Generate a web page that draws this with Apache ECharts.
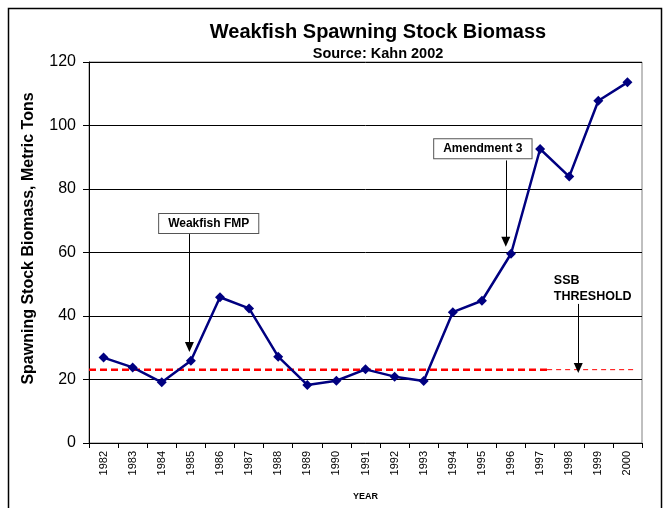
<!DOCTYPE html>
<html>
<head>
<meta charset="utf-8">
<script src="https://cdn.jsdelivr.net/npm/echarts@6/dist/echarts.min.js"></script>
<style>
  html, body { margin: 0; padding: 0; background: #fff; }
  #chart-container { width: 667px; height: 508px; }
</style>
</head>
<body>
<div id="chart-container"></div>
<script>
// years and spawning stock biomass
var years = ['1982', '1983', '1984', '1985', '1986', '1987', '1988', '1989', '1990', '1991',
  '1992', '1993', '1994', '1995', '1996', '1997', '1998', '1999', '2000'];
var biomass = [26.9, 23.8, 19.1, 25.9, 45.9, 42.4, 27.2, 18.3, 19.6, 23.2,
  20.9, 19.5, 41.2, 44.8, 59.6, 92.6, 83.9, 107.8, 113.6];
var yTicks = [0, 20, 40, 60, 80, 100, 120];

// SSB threshold, in axis units (x: 0..19 across the plot)
var threshold = 23.1;
var thresholdBold = [0, 15.74];
var thresholdThin = [15.74, 18.83];

// arrows: [x, from value, to value]
var arrows = [
  [3.45, 65.8, 30.2],
  [14.32, 89.0, 63.4],
  [16.81, 43.8, 23.6]
];
// text notes: [text, x, y(top value), boxed]
var notes = [
  ['Weakfish FMP', 2.41, 72.1, true],
  ['Amendment 3', 11.86, 95.7, true],
  ['SSB\nTHRESHOLD', 15.97, 53.6, false]
];

var font = 'Liberation Sans, Arial, sans-serif';
var dom = document.getElementById('chart-container');
var myChart = echarts.init(dom);

var arrowLines = arrows.map(function (a) {
  return [{ coord: [a[0], a[1]] }, { coord: [a[0], a[2]] }];
});

var option = {
  animation: false,
  backgroundColor: '#fff',
  title: [
    {
      text: 'Weakfish Spawning Stock Biomass',
      left: 373, top: 17, textAlign: 'center',
      textStyle: { fontFamily: font, fontSize: 20, fontWeight: 'bold', color: '#000' }
    },
    {
      text: 'Source: Kahn 2002',
      left: 373, top: 41, textAlign: 'center',
      textStyle: { fontFamily: font, fontSize: 14.5, fontWeight: 'bold', color: '#000' }
    }
  ],
  grid: {
    left: 89, right: 25, top: 62, bottom: 65,
    show: true, borderColor: '#808080', borderWidth: 1
  },
  xAxis: [
    {
      type: 'category',
      data: years,
      boundaryGap: true,
      name: 'YEAR',
      nameLocation: 'middle',
      nameGap: 49,
      nameTextStyle: { fontFamily: font, fontSize: 9, fontWeight: 'bold', color: '#000' },
      axisLine: { lineStyle: { color: '#000', width: 1 } },
      axisTick: { show: true, interval: 0, length: 5, lineStyle: { color: '#000' } },
      axisLabel: { interval: 0, rotate: 90, fontFamily: font, fontSize: 11, color: '#000', margin: 8 },
      splitLine: { show: false }
    },
    {
      type: 'value', min: 0, max: 19, show: false
    }
  ],
  yAxis: {
    type: 'value',
    min: yTicks[0],
    max: yTicks[yTicks.length - 1],
    interval: 20,
    name: 'Spawning Stock Biomass, Metric Tons',
    nameLocation: 'middle',
    nameRotate: 90,
    nameGap: 52,
    nameTextStyle: { fontFamily: font, fontSize: 16, fontWeight: 'bold', color: '#000', padding: [0, 0, 0, 28] },
    axisLine: { show: true, lineStyle: { color: '#000', width: 1 } },
    axisTick: { show: true, length: 6, lineStyle: { color: '#000' } },
    axisLabel: { fontFamily: font, fontSize: 16, color: '#000', margin: 13 },
    splitLine: { show: true, lineStyle: { color: '#000', width: 1 } }
  },
  series: [
    {
      name: 'threshold',
      type: 'line',
      xAxisIndex: 1,
      data: [[thresholdBold[0], threshold], [thresholdBold[1], threshold]],
      symbol: 'none',
      lineStyle: { color: '#ff0000', width: 2.5, type: [7, 4] },
      z: 2
    },
    {
      name: 'threshold2',
      type: 'line',
      xAxisIndex: 1,
      data: [[thresholdThin[0], threshold], [thresholdThin[1], threshold]],
      symbol: 'none',
      lineStyle: { color: '#ff0000', width: 1, type: [5, 4] },
      z: 2,
      markLine: {
        silent: true,
        symbol: ['none', 'triangle'],
        symbolSize: [9, 10],
        label: { show: false },
        lineStyle: { color: '#000', width: 1, type: 'solid' },
        data: arrowLines
      }
    },
    {
      name: 'SSB',
      type: 'line',
      xAxisIndex: 0,
      data: biomass,
      symbol: 'diamond',
      symbolSize: 10,
      itemStyle: { color: '#000080' },
      lineStyle: { color: '#000080', width: 2.5 },
      z: 3
    }
  ]
};

myChart.setOption(option);

// notes placed through the axes
var graphics = [{
  type: 'rect',
  shape: { x: 8.5, y: 8.5, width: 653, height: 530 },
  style: { fill: 'none', stroke: '#000', lineWidth: 1.5 },
  silent: true
}];
notes.forEach(function (n) {
  var p = myChart.convertToPixel({ xAxisIndex: 1, yAxisIndex: 0 }, [n[1], n[2]]);
  if (n[3]) {
    graphics.push({
      type: 'text',
      x: p[0], y: p[1],
      style: {
        text: n[0], fontFamily: font, fontSize: 12, fontWeight: 'bold', fill: '#000',
        backgroundColor: '#fff', borderColor: '#555', borderWidth: 1,
        padding: [4, 9, 3, 9]
      },
      z: 10
    });
  } else {
    graphics.push({
      type: 'text',
      x: p[0], y: p[1],
      style: {
        text: n[0], fontFamily: font, fontSize: 12.5, fontWeight: 'bold', fill: '#000',
        lineHeight: 16
      },
      z: 10
    });
  }
});
myChart.setOption({ graphic: graphics });
</script>
</body>
</html>
